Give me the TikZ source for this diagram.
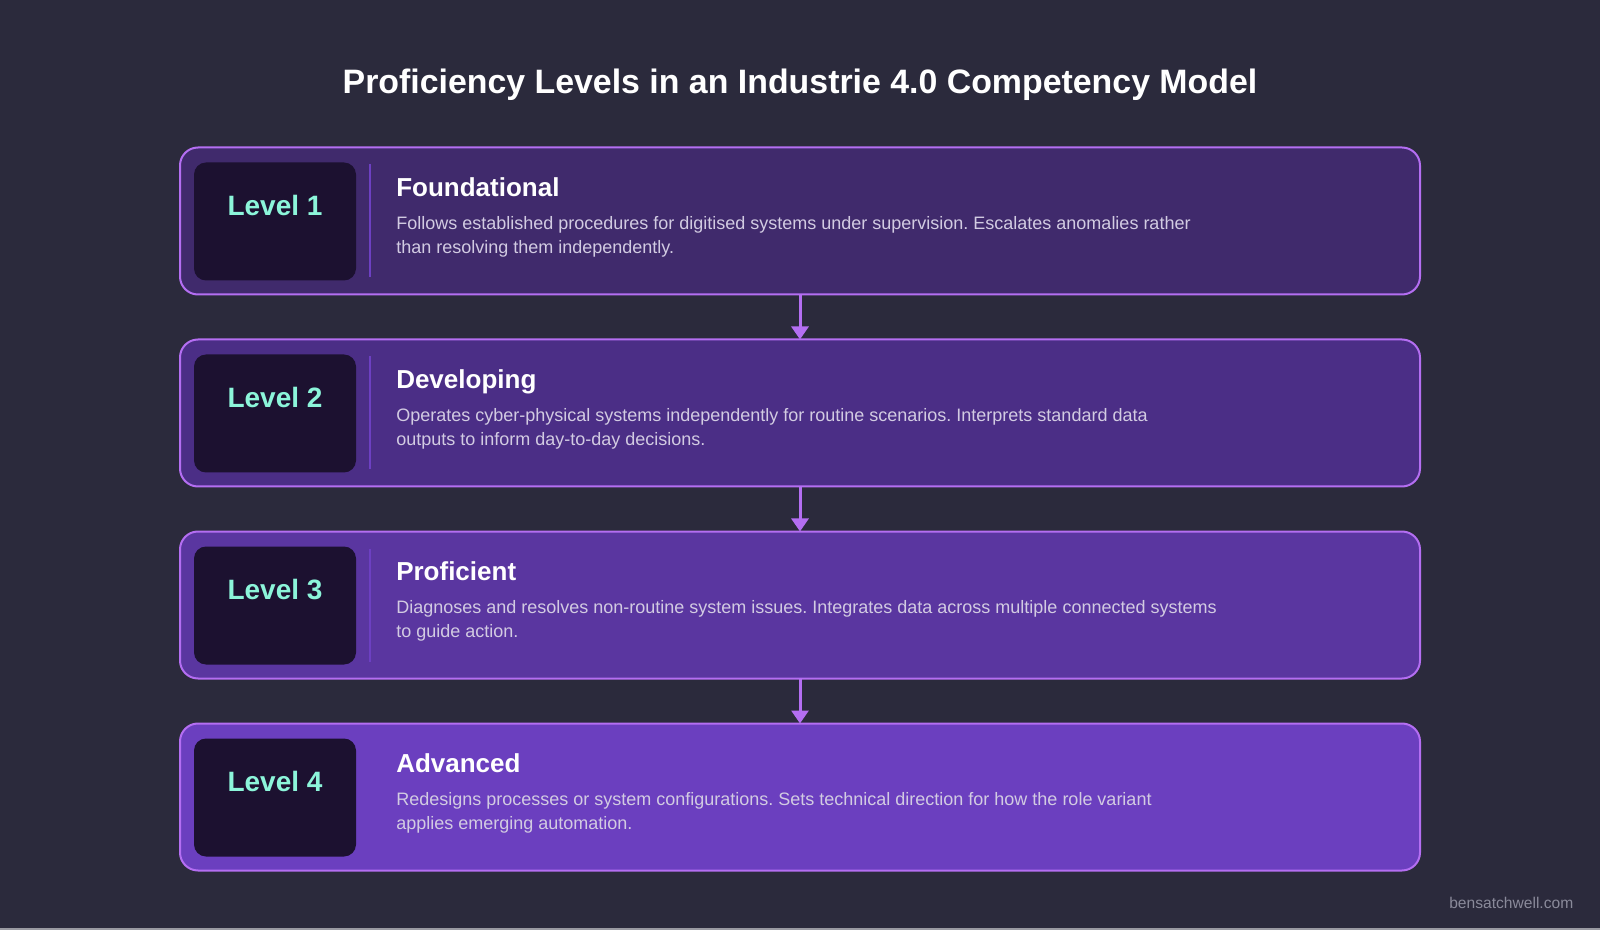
\documentclass[tikz,border=0pt]{standalone}
\usepackage{fontspec}
\setmainfont{Liberation Sans}
\usepackage{tikz}
\usetikzlibrary{shapes,arrows.meta,positioning,calc}
\frenchspacing

\definecolor{bgdark}{HTML}{2B2A3C}
\definecolor{cardedge}{HTML}{B46EF2}
\definecolor{cardone}{HTML}{402A6C}
\definecolor{cardtwo}{HTML}{4B2E86}
\definecolor{cardthree}{HTML}{5A36A0}
\definecolor{cardfour}{HTML}{6B3FBF}
\definecolor{badgefill}{HTML}{1C1130}
\definecolor{badgetext}{HTML}{8CF5DA}
\definecolor{desctext}{HTML}{D2CBE2}
\definecolor{rulecol}{HTML}{6D40C2}
\definecolor{credittext}{HTML}{8A8A9A}
\definecolor{edgestrip}{HTML}{9A9AA2}

\tikzset{
  card/.style={rectangle, rounded corners=13.5pt, minimum width=930pt, minimum height=110.25pt, draw=cardedge, line width=1.5pt, inner sep=0pt, outer sep=0pt},
  badge/.style={rectangle, rounded corners=9pt, fill=badgefill, minimum width=121.5pt, inner sep=0pt, outer sep=0pt, text height=39.75pt, text depth=48.75pt, text=badgetext, font=\fontsize{21pt}{25pt}\selectfont\bfseries},
  divider/.style={draw=rulecol, line width=1.5pt},
  heading/.style={anchor=base west, inner sep=0pt, text=white, font=\fontsize{19.5pt}{23pt}\selectfont\bfseries},
  desc/.style={inner sep=0pt, align=left, text=desctext, font=\fontsize{13.5pt}{17.55pt}\selectfont},
  flow/.style={draw=cardedge, line width=2.25pt, -{Triangle[width=12.75pt,length=9.75pt]}}
}

\begin{document}
\begin{tikzpicture}[x=0.75pt, y=-0.75pt]
    \fill [bgdark] (0,0) rectangle (1600,930);
    \fill [edgestrip] (0,928) rectangle (1600,930);
    \node (title) [anchor=base, text=white, font=\fontsize{25.4pt}{30pt}\selectfont\bfseries] at (800,94) {Proficiency Levels in an Industrie 4.0 Competency Model};

    % level cards
    \node (card1) [card, fill=cardone] at (800,221) {};
    \node (card2) [card, fill=cardtwo, below=33.75pt of card1] {};
    \node (card3) [card, fill=cardthree, below=33.75pt of card2] {};
    \node (card4) [card, fill=cardfour, below=33.75pt of card3] {};

    \draw [flow] (card1) -- (card2);
    \draw [flow] (card2) -- (card3);
    \draw [flow] (card3) -- (card4);

    % level 1
    \node (lvl1) [badge, below right=11.25pt and 10.5pt of card1.north west] {Level 1};
    \draw [divider] ([xshift=10.5pt,yshift=-1.5pt]lvl1.north east) -- ([xshift=10.5pt,yshift=2.25pt]lvl1.south east);
    \node (head1) [heading, xshift=162pt, yshift=-36.75pt] at (card1.north west) {Foundational};
    \node (desc1) [desc, below right=15pt and 0pt of head1.base west] {Follows established procedures for digitised systems under supervision. Escalates anomalies rather\\than resolving them independently.};

    % level 2
    \node (lvl2) [badge, below right=11.25pt and 10.5pt of card2.north west] {Level 2};
    \draw [divider] ([xshift=10.5pt,yshift=-1.5pt]lvl2.north east) -- ([xshift=10.5pt,yshift=2.25pt]lvl2.south east);
    \node (head2) [heading, xshift=162pt, yshift=-36.75pt] at (card2.north west) {Developing};
    \node (desc2) [desc, below right=15pt and 0pt of head2.base west] {Operates cyber-physical systems independently for routine scenarios. Interprets standard data\\outputs to inform day-to-day decisions.};

    % level 3
    \node (lvl3) [badge, below right=11.25pt and 10.5pt of card3.north west] {Level 3};
    \draw [divider] ([xshift=10.5pt,yshift=-1.5pt]lvl3.north east) -- ([xshift=10.5pt,yshift=2.25pt]lvl3.south east);
    \node (head3) [heading, xshift=162pt, yshift=-36.75pt] at (card3.north west) {Proficient};
    \node (desc3) [desc, below right=15pt and 0pt of head3.base west] {Diagnoses and resolves non-routine system issues. Integrates data across multiple connected systems\\to guide action.};

    % level 4
    \node (lvl4) [badge, below right=11.25pt and 10.5pt of card4.north west] {Level 4};
    \node (head4) [heading, xshift=162pt, yshift=-36.75pt] at (card4.north west) {Advanced};
    \node (desc4) [desc, below right=15pt and 0pt of head4.base west] {Redesigns processes or system configurations. Sets technical direction for how the role variant\\applies emerging automation.};

    \node (credit) [anchor=base east, text=credittext, font=\fontsize{11.7pt}{14pt}\selectfont] at (1578,908) {bensatchwell.com};
\end{tikzpicture}
\end{document}
